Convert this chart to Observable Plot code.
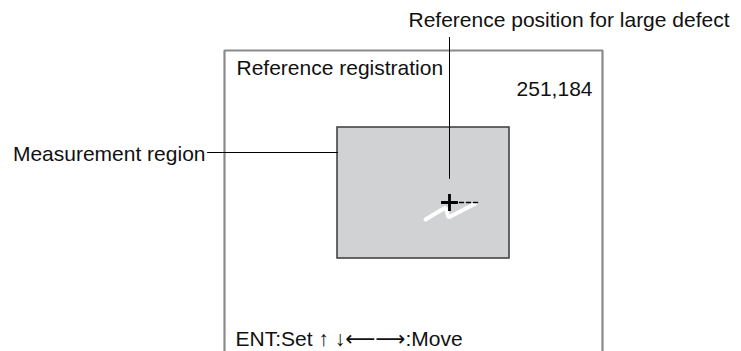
<!DOCTYPE html>
<html>
<head>
<meta charset="utf-8">
<script src="https://cdn.jsdelivr.net/npm/d3@7"></script>
<script src="https://cdn.jsdelivr.net/npm/@observablehq/plot@0.6"></script>
<style>
  html, body { margin: 0; padding: 0; background: #fff; }
  svg { display: block; }
</style>
</head>
<body>
<div id="chart"></div>
<script>
// Diagram elements (screen units of the diagram, y grows downward)
const frame = [{x: 224, y: 360}, {x: 224, y: 50}, {x: 602, y: 50}, {x: 602, y: 360}];
const region = [{x1: 337, x2: 509, y1: 127, y2: 258}];
const leaderRegion = [{x: 207, y: 152}, {x: 337, y: 152}];
const leaderRef = [{x: 449, y: 37}, {x: 449, y: 178}];
const defect = [{x: 425, y: 219}, {x: 445, y: 207}, {x: 448, y: 217}, {x: 475, y: 203}];
const refMark = [{x: 449, y: 202}];
const dashes = [{x: 459, y: 202}, {x: 477, y: 202}];
const labels = [
  {x: 408, y: 26, text: "Reference position for large defect", anchor: "start"},
  {x: 236, y: 74, text: "Reference registration", anchor: "start"},
  {x: 592, y: 95, text: "251,184", anchor: "end"},
  {x: 205, y: 160, text: "Measurement region", anchor: "end"},
  {x: 235, y: 345, text: "ENT:Set \u2191 \u2193\u27F5\u27F6:Move", anchor: "start"}
];

const plot = Plot.plot({
  width: 741,
  height: 351,
  margin: 0,
  x: {domain: [0, 741], axis: null},
  y: {domain: [0, 351], reverse: true, axis: null},
  style: {fontFamily: "'Liberation Sans', Arial, 'DejaVu Sans', sans-serif", background: "#fff"},
  marks: [
    Plot.line(frame, {x: "x", y: "y", stroke: "#8a8a8a", strokeWidth: 2.2, strokeLinejoin: "miter"}),
    Plot.rect(region, {x1: "x1", x2: "x2", y1: "y1", y2: "y2", fill: "#d1d2d4", stroke: "#3a3a3a", strokeWidth: 1.5}),
    Plot.line(leaderRegion, {x: "x", y: "y", stroke: "#000", strokeWidth: 1}),
    Plot.line(leaderRef, {x: "x", y: "y", stroke: "#000", strokeWidth: 1}),
    Plot.line(defect, {x: "x", y: "y", stroke: "#fff", strokeWidth: 4, strokeLinejoin: "miter"}),
    Plot.line(dashes, {x: "x", y: "y", stroke: "#000", strokeWidth: 1.5, strokeDasharray: "4,3"}),
    Plot.dot(refMark, {x: "x", y: "y", symbol: "plus", r: 5.5, stroke: "#000", strokeWidth: 2.8}),
    ...labels.map(d => Plot.text([d], {x: "x", y: "y", text: "text", textAnchor: d.anchor, lineAnchor: "bottom", fontSize: 21, fill: "#111"}))
  ]
});
document.getElementById("chart").appendChild(plot);
</script>
</body>
</html>
